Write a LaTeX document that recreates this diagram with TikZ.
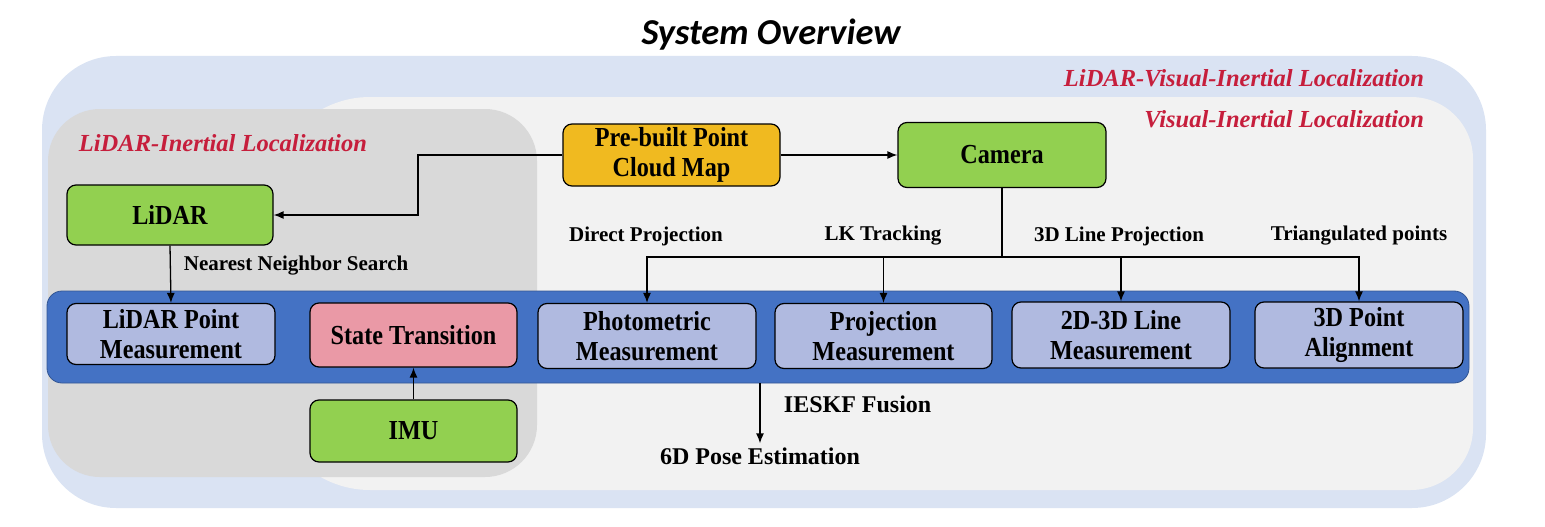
\documentclass[tikz,border=0pt]{standalone}
\usepackage{fontspec}
\setmainfont{Liberation Serif}
\newfontfamily\boxfont{Liberation Serif}[FakeStretch=0.88]
\newfontfamily\titlefont{Carlito}
\usetikzlibrary{positioning}
\usetikzlibrary{shapes}
\usetikzlibrary{arrows.meta}

\definecolor{outerblue}{RGB}{218,227,243}
\definecolor{lightgray}{RGB}{242,242,242}
\definecolor{darkgray}{RGB}{217,217,217}
\definecolor{bandblue}{RGB}{68,114,196}
\definecolor{lavender}{RGB}{176,186,224}
\definecolor{pinkbox}{RGB}{234,153,166}
\definecolor{greenbox}{RGB}{146,208,80}
\definecolor{mapyellow}{RGB}{240,186,32}
\definecolor{regionred}{RGB}{198,30,60}

\tikzset{
  box/.style={draw=black, line width=1.2pt, rounded corners=9pt, align=center,
    inner sep=0pt, font=\boxfont\fontsize{27.5}{29.5}\selectfont\bfseries},
  sensor/.style={box, fill=greenbox},
  meas/.style={box, fill=lavender},
  label/.style={inner sep=0.75pt, font=\fontsize{21}{24}\selectfont\bfseries},
  biglabel/.style={label, font=\fontsize{24}{26}\selectfont\bfseries},
  region/.style={inner sep=0.75pt, text=regionred, font=\fontsize{24.5}{26}\selectfont\bfseries\itshape},
  arr/.style={draw=black, line width=1.3pt, -{Latex[length=10pt,width=8pt]}},
}

\begin{document}
\begin{tikzpicture}[x=1pt,y=1pt,yscale=-1,xscale=1]
\useasboundingbox (0,0) rectangle (1545,527);

%Shape: Rounded Rect [LiDAR-Visual-Inertial]
\fill [outerblue, rounded corners=74pt] (42,56) rectangle (1486,508) ;
%Shape: Rounded Rect [Visual-Inertial]
\fill [lightgray] (800,490) [rounded corners=100pt] -- (270,490) -- (270,97) -- (800,97)
  [rounded corners=62pt] -- (1473,97) -- (1473,490) -- cycle ;
%Shape: Rounded Rect [LiDAR-Inertial]
\fill [darkgray, rounded corners=52pt] (48,109) rectangle (537,477) ;

% Title
\node [inner sep=0.75pt, font=\titlefont\fontsize{36.5}{40}\selectfont\bfseries\itshape] (title) at (771,35) {System Overview};

% Region labels
\node [region, anchor=east] (lvil) at (1425,78) {LiDAR-Visual-Inertial Localization};
\node [region, anchor=east] (vil) at (1425,119) {Visual-Inertial Localization};
\node [region, anchor=west] (lil) at (78,143) {LiDAR-Inertial Localization};

% Fusion band
\node [fill=bandblue, draw=bandblue!75!black, line width=0.8pt, rounded corners=15pt,
  minimum width=1422pt, minimum height=92pt, inner sep=0pt] (fusion) at (758,337) {};

% Sensors and map
\node [box, fill=mapyellow, minimum width=217pt, minimum height=62pt] (map) at (671.5,155) {Pre-built Point\\Cloud Map};
\node [sensor, minimum width=208pt, minimum height=65pt] (camera) at (1002,155) {Camera};
\node [sensor, minimum width=206pt, minimum height=60pt] (lidar) at (170,215) {LiDAR};
\node [sensor, minimum width=207pt, minimum height=62pt] (imu) at (413.5,431) {IMU};

% Measurement boxes
\node [meas, minimum width=208pt, minimum height=61pt] (lpm) at (171,334) {LiDAR Point\\Measurement};
\node [box, fill=pinkbox, minimum width=207pt, minimum height=64pt] (state) at (413.5,335) {State Transition};
\node [meas, minimum width=218pt, minimum height=65pt] (photo) at (647,336) {Photometric\\Measurement};
\node [meas, minimum width=217pt, minimum height=65pt] (proj) at (883.5,336) {Projection\\Measurement};
\node [meas, minimum width=218pt, minimum height=66pt] (line) at (1121,335) {2D-3D Line\\Measurement};
\node [meas, minimum width=208pt, minimum height=66pt] (align) at (1359,335) {3D Point\\Alignment};

% Text Node
\node [label, anchor=west] (nns) at (183,266) {Nearest Neighbor Search};
\node [label] (dp) at (646,236) {Direct Projection};
\node [label] (lk) at (883,236) {LK Tracking};
\node [label] (lp) at (1119,236) {3D Line Projection};
\node [label] (tp) at (1359,236) {Triangulated points};
\node [biglabel, anchor=west] (ieskf) at (783,404) {IESKF Fusion};
\node [biglabel, inner sep=4pt] (pose) at (760,456) {6D Pose Estimation};

% Connectors
\coordinate (elbow) at (418,215);
\coordinate (branch) at (1002,257);
\draw [arr] (map.east) -- (camera.west);
\draw [arr] (map.west) -| (elbow) -- (lidar.east);
\draw [arr] (lidar.south) -- (lpm.north);
\draw [arr] (imu.north) -- (state.south);
\draw [line width=1.3pt] (camera.south) -- (branch);
\draw [arr] (branch) -| (photo.north);
\draw [arr] (branch) -| (proj.north);
\draw [arr] (branch) -| (line.north);
\draw [arr] (branch) -| (align.north);
\draw [arr] (fusion.south -| pose.north) -- (pose.north);

\end{tikzpicture}
\end{document}
